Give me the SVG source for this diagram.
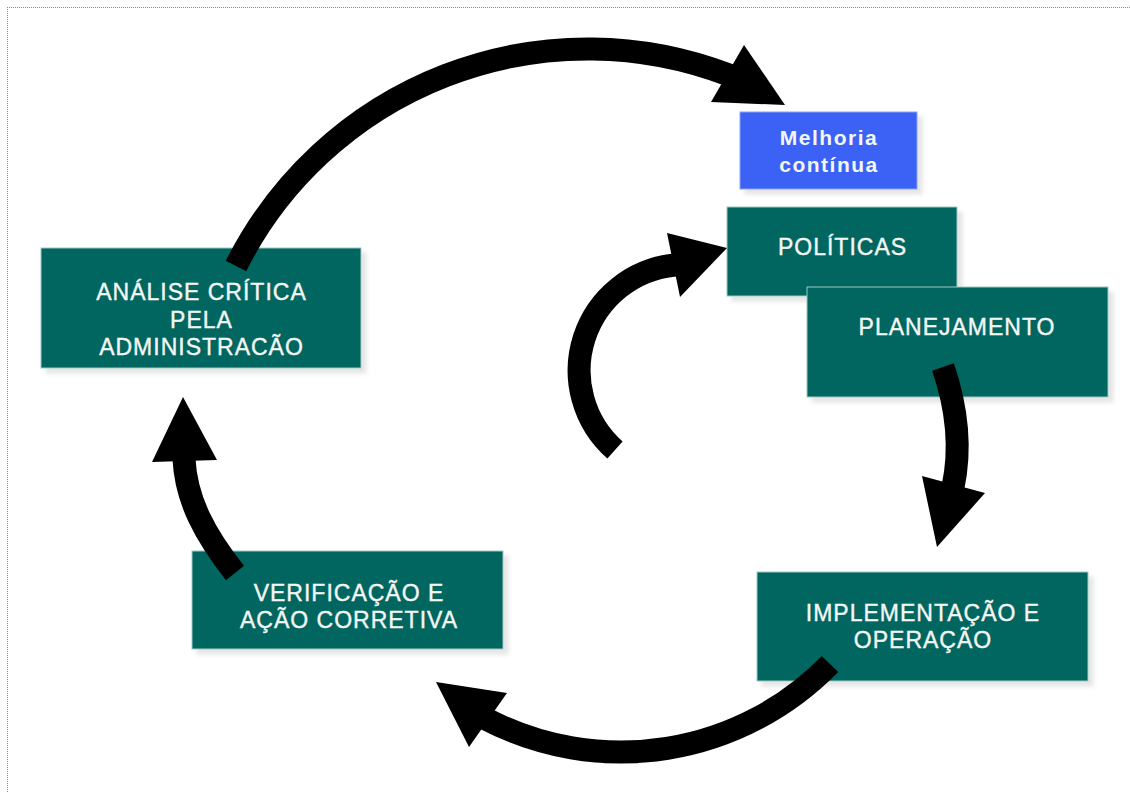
<svg xmlns="http://www.w3.org/2000/svg" width="1130" height="793" viewBox="0 0 1130 793">
<defs>
<filter id="sh" x="-10%" y="-10%" width="125%" height="130%">
<feDropShadow dx="5" dy="5" stdDeviation="2" flood-color="#000" flood-opacity="0.1"/>
</filter>
<style>
.box{fill:#00665f;stroke:#9ccac4;stroke-width:1;filter:url(#sh)}
.blue{fill:#3a62f5;stroke:#8aa2fa;stroke-width:1;filter:url(#sh)}
.t{font-family:"Liberation Sans",Arial,sans-serif;font-size:23px;fill:#f4f6f4;stroke:#f4f6f4;stroke-width:0.4;text-anchor:middle;letter-spacing:1px}
.tb{font-family:"Liberation Sans",Arial,sans-serif;font-size:21px;font-weight:bold;fill:#f4f6f4;text-anchor:middle;letter-spacing:1.5px}
.body{fill:none;stroke:#000;stroke-width:23;stroke-linecap:butt}
.head{fill:#000}
.frame{stroke:#8a8a8a;stroke-width:1;stroke-dasharray:1 1;fill:none}
</style>
</defs>
<rect width="1130" height="793" fill="#fff"/>
<g id="frame">
<line class="frame" x1="7" y1="7.5" x2="1130" y2="7.5"/>
<line class="frame" x1="7.5" y1="7" x2="7.5" y2="793"/>
</g>
<g id="melhoria">
<rect class="blue" x="740" y="112" width="177" height="77"/>
<text class="tb" x="829" y="145">Melhoria</text>
<text class="tb" x="829" y="172">contínua</text>
</g>
<g id="politicas">
<rect class="box" x="727" y="207" width="230" height="89"/>
<text class="t" x="842.5" y="255">POLÍTICAS</text>
</g>
<g id="planejamento">
<rect class="box" x="807" y="287" width="301" height="110"/>
<text class="t" x="957" y="335">PLANEJAMENTO</text>
</g>
<g id="analise">
<rect class="box" x="41" y="248" width="320" height="120"/>
<text class="t" x="201.5" y="300">ANÁLISE CRÍTICA</text>
<text class="t" x="201.5" y="328">PELA</text>
<text class="t" x="201.5" y="355">ADMINISTRACÃO</text>
</g>
<g id="verificacao">
<rect class="box" x="192" y="551" width="311" height="98"/>
<text class="t" x="349" y="601">VERIFICAÇÃO E</text>
<text class="t" x="349" y="628">AÇÃO CORRETIVA</text>
</g>
<g id="implementacao">
<rect class="box" x="757" y="572" width="331" height="109"/>
<text class="t" x="923" y="621">IMPLEMENTAÇÃO E</text>
<text class="t" x="923" y="648">OPERAÇÃO</text>
</g>
<g id="connectors">
<path class="body" d="M236,266 A394,394 0 0 1 729,75"/>
<polygon class="head" points="744,45 711,102 785,105"/>
<path class="body" d="M615,450 A106,106 0 0 1 675,265"/>
<polygon class="head" points="667,233 680,297 727,248"/>
<path class="body" d="M943,367 C956,405 962,445 953,487"/>
<polygon class="head" points="922,476 985,493 937,547"/>
<path class="body" d="M830,664 A292,292 0 0 1 486,719"/>
<polygon class="head" points="436,682 469,747 507,693"/>
<path class="body" d="M235,573 C205,535 186,500 184,459"/>
<polygon class="head" points="183,397 152,462 217,460"/>
</g>
</svg>
